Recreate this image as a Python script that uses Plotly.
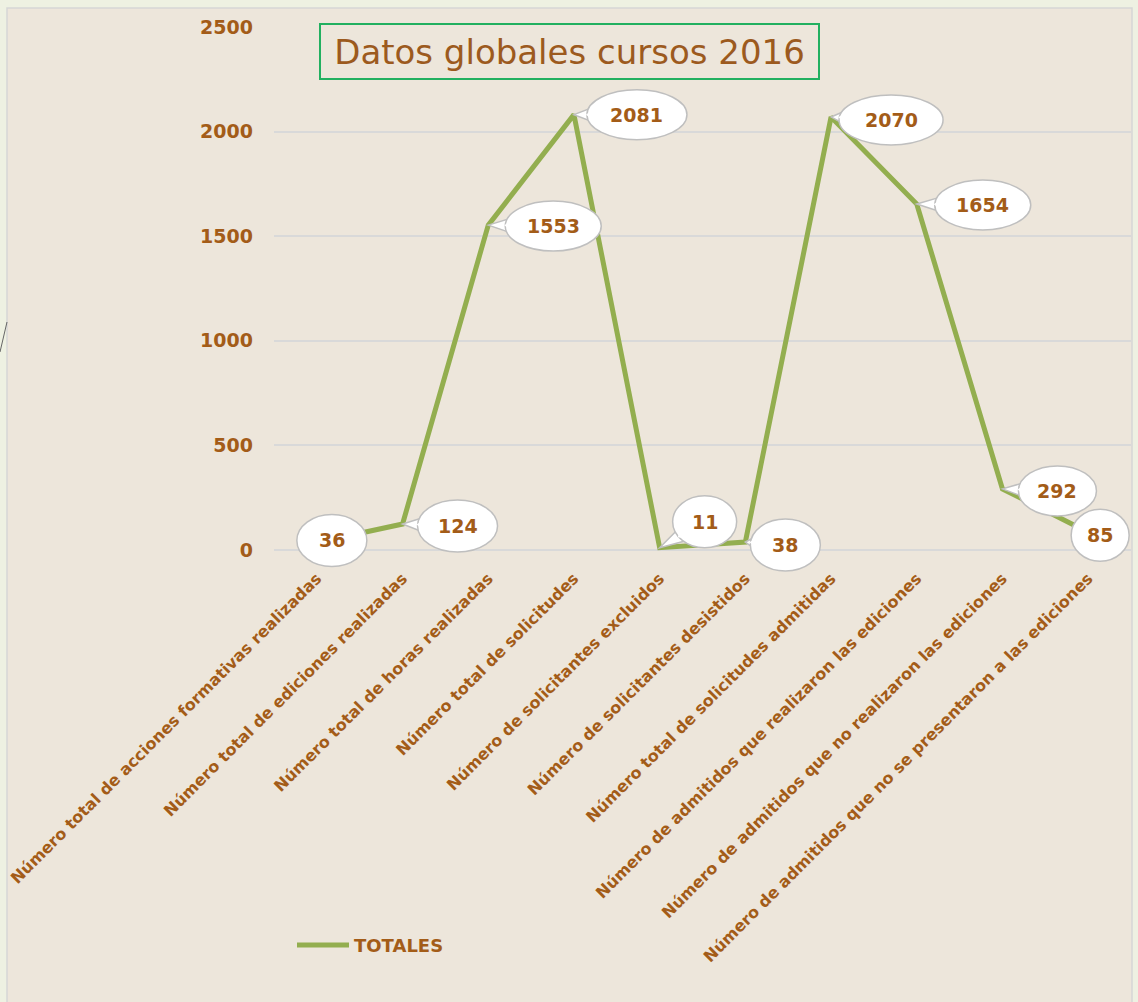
import math
import plotly.graph_objects as go

categories = [
    "Número total de acciones formativas realizadas",
    "Número total de ediciones realizadas",
    "Número total de horas realizadas",
    "Número total de solicitudes",
    "Número de solicitantes excluidos",
    "Número de solicitantes desistidos",
    "Número total de solicitudes admitidas",
    "Número de admitidos que realizaron las ediciones",
    "Número de admitidos que no realizaron las ediciones",
    "Número de admitidos que no se presentaron a las ediciones",
]
totales = [36, 124, 1553, 2081, 11, 38, 2070, 1654, 292, 85]
y_ticks = [0, 500, 1000, 1500, 2000, 2500]
series_name = "TOTALES"
title_text = "Datos globales cursos 2016"

# label callout layout (pixel offsets from the point, ellipse size)
label_dx = [15, 55, 65, 63, 45, 40, 60, 66, 55, 12]
label_dy = [2, -2, -1, 0, 26, -3, -3, -1, -2, -3]
label_w = [70, 80, 96, 100, 64, 70, 104, 96, 78, 58]
label_h = [52, 52, 50, 50, 52, 52, 50, 50, 50, 52]

BROWN = "#A35C18"
GREEN = "#93AE4F"
BEIGE = "#EDE6DB"
FONT = "DejaVu Sans"

fig = go.Figure()
fig.add_trace(go.Scatter(
    x=list(range(len(categories))), y=totales, mode="lines", name=series_name,
    line=dict(color=GREEN, width=5), showlegend=False, hoverinfo="skip",
))

shapes = []
annotations = []

L, R, T, B = 274, 7, 27, 429
W = 1138 - L - R
H = 1002 - T - B
def px2paper_x(px):
    return (px - L) / W
def px2paper_y(py):
    return 1 - (py - T) / H

shapes.append(dict(type="rect", xref="paper", yref="paper",
                   x0=px2paper_x(7), x1=px2paper_x(1132),
                   y0=px2paper_y(1010), y1=px2paper_y(8),
                   fillcolor=BEIGE, line=dict(color="#D6D6D6", width=1.5), layer="below"))
shapes.append(dict(type="line", xref="paper", yref="paper",
                   x0=px2paper_x(0), x1=px2paper_x(7),
                   y0=px2paper_y(352), y1=px2paper_y(322),
                   line=dict(color="#666666", width=1), layer="below"))

for i, v in enumerate(totales):
    dx, dy, w, h = label_dx[i], label_dy[i], label_w[i], label_h[i]
    d = math.hypot(dx, dy) or 1.0
    ux, uy = dx / d, dy / d
    a, b = w / 2, h / 2
    r = 1.0 / math.sqrt((ux / a) ** 2 + (uy / b) ** 2)
    reach = max(d - r + 8, 4)
    bx, by = ux * reach, uy * reach
    px, py = -uy, ux
    tw = 8
    shapes_path = "M 0,0 L {:.1f},{:.1f} L {:.1f},{:.1f} Z".format(
        bx + px * tw, by + py * tw, bx - px * tw, by - py * tw)
    if d - r > 2:
        shapes.append(dict(type="path", xref="x", yref="y", xsizemode="pixel", ysizemode="pixel",
                           xanchor=i, yanchor=v, path=shapes_path,
                           fillcolor="white", line=dict(color="#BFBFBF", width=1.5), layer="above"))
    shapes.append(dict(type="circle", xref="x", yref="y", xsizemode="pixel", ysizemode="pixel",
                       xanchor=i, yanchor=v,
                       x0=dx - w / 2, x1=dx + w / 2, y0=dy - h / 2, y1=dy + h / 2,
                       fillcolor="white", line=dict(color="#BFBFBF", width=1.5), layer="above"))
    if d - r > 2:
        # cover the tail's base edge inside the ellipse
        shapes.append(dict(type="path", xref="x", yref="y", xsizemode="pixel", ysizemode="pixel",
                           xanchor=i, yanchor=v,
                           path="M {:.1f},{:.1f} L {:.1f},{:.1f} L {:.1f},{:.1f} Z".format(
                               ux * (reach - 9), uy * (reach - 9),
                               bx + px * (tw - 1.2), by + py * (tw - 1.2),
                               bx - px * (tw - 1.2), by - py * (tw - 1.2)),
                           fillcolor="white", line=dict(width=0), layer="above"))
    annotations.append(dict(x=i, y=v, xref="x", yref="y", text=str(v), showarrow=False,
                            xshift=dx, yshift=dy,
                            font=dict(family=FONT, size=19, color=BROWN, weight="bold")))

annotations.append(dict(x=px2paper_x(569.5), y=px2paper_y(51.5), xref="paper", yref="paper",
                        xanchor="center", yanchor="middle",
                        text=title_text, showarrow=False, width=495, height=51,
                        bordercolor="#22B060", borderwidth=2, borderpad=1,
                        font=dict(family=FONT, size=34, color="#9C5A1E")))

# legend drawn manually
shapes.append(dict(type="line", xref="paper", yref="paper",
                   x0=px2paper_x(297), x1=px2paper_x(349),
                   y0=px2paper_y(945), y1=px2paper_y(945),
                   line=dict(color=GREEN, width=5)))
annotations.append(dict(x=px2paper_x(352), y=px2paper_y(945), xref="paper", yref="paper",
                        xanchor="left", yanchor="middle", text=series_name, showarrow=False,
                        font=dict(family=FONT, size=18, color=BROWN, weight="bold")))

fig.update_layout(
    width=1138, height=1002,
    margin=dict(l=L, r=R, t=T, b=B),
    paper_bgcolor="#EEF1E2",
    plot_bgcolor="rgba(0,0,0,0)",
    shapes=shapes, annotations=annotations,
    showlegend=False,
    xaxis=dict(tickmode="array", tickvals=list(range(len(categories))), ticktext=categories,
               tickangle=-45, range=[-0.5, len(categories) - 0.5], showgrid=False,
               zeroline=False, showline=False, ticks="", ticklabelstandoff=-8,
               tickfont=dict(family=FONT, size=16, color=BROWN, weight="bold")),
    yaxis=dict(range=[-110, 2500], tickvals=y_ticks, showgrid=True, gridcolor="#D9D9D9",
               gridwidth=1.5, zeroline=False, showline=False, ticks="", ticklabelstandoff=20,
               tickfont=dict(family=FONT, size=19, color=BROWN, weight="bold")),
)

fig.write_html("out.html", config={"displayModeBar": False},
               post_script="document.body.style.margin='0px';")
